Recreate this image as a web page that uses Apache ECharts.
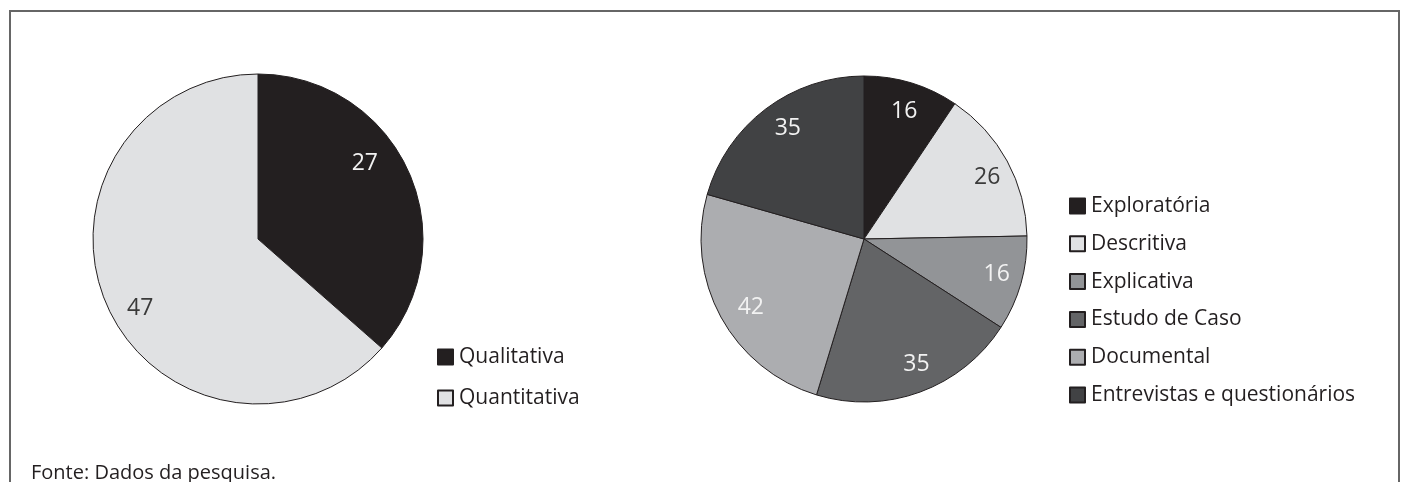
<!DOCTYPE html>
<html>
<head>
<meta charset="utf-8">
<script src="https://cdn.jsdelivr.net/npm/echarts@6/dist/echarts.min.js"></script>
<style>
  html, body { margin: 0; padding: 0; background: #ffffff; }
  #chart { width: 1402px; height: 482px; }
</style>
</head>
<body>
<div id="chart"></div>
<script>
// ---- Data ----
const leftCategories = ['Qualitativa', 'Quantitativa'];
const leftValues = [27, 47];
const rightCategories = ['Exploratória', 'Descritiva', 'Explicativa', 'Estudo de Caso', 'Documental', 'Entrevistas e questionários'];
const rightValues = [16, 26, 16, 35, 42, 35];
const sourceText = 'Fonte: Dados da pesquisa.';

// ---- Styles ----
const leftColors = ['#231f20', '#e0e1e3'];
const leftLabelColors = ['#f2f2f2', '#3a3a3a'];
const rightColors = ['#231f20', '#e0e1e3', '#929497', '#636466', '#acadb0', '#414244'];
const rightLabelColors = ['#f2f2f2', '#3a3a3a', '#f2f2f2', '#f2f2f2', '#f2f2f2', '#f2f2f2'];
const leftLabelNudge = [[-18, -19], [7, 13]];
const rightLabelNudge = [[0, 4], [2, 4], [0, -2], [5, -4], [8, 2], [7, 0]];
const FONT = '"Open Sans", "Noto Sans", sans-serif';

function mainSeries(cats, vals, colors, center, radius) {
  return {
    type: 'pie',
    center: center,
    radius: radius,
    startAngle: 90,
    clockwise: true,
    label: { show: false },
    labelLine: { show: false },
    emphasis: { disabled: true },
    animation: false,
    data: cats.map((n, i) => ({
      name: n, value: vals[i],
      itemStyle: { color: colors[i], borderColor: '#231f20', borderWidth: 1 }
    }))
  };
}
function labelSeries(cats, vals, labelColors, nudges, center, radius) {
  return {
    type: 'pie',
    center: center,
    radius: radius,
    startAngle: 90,
    clockwise: true,
    silent: true,
    legendHoverLink: false,
    emphasis: { disabled: true },
    animation: false,
    labelLine: { show: false },
    label: {
      show: true, position: 'inside', formatter: '{c}',
      fontFamily: FONT, fontSize: 23
    },
    itemStyle: { color: 'transparent', borderWidth: 0 },
    data: cats.map((n, i) => ({
      name: n, value: vals[i],
      label: { color: labelColors[i], offset: nudges[i] }
    }))
  };
}

const legendText = { fontFamily: FONT, fontSize: 21, lineHeight: 24, color: '#231f20', padding: [0, 0, 0, 1] };

const chart = echarts.init(document.getElementById('chart'), null, { renderer: 'canvas' });
chart.setOption({
  backgroundColor: '#ffffff',
  animation: false,
  legend: [
    {
      data: leftCategories,
      orient: 'vertical', left: 437, top: 345, padding: 0,
      itemWidth: 15, itemHeight: 15, itemGap: 17,
      icon: 'rect',
      selectedMode: false,
      textStyle: legendText
    },
    {
      data: rightCategories,
      orient: 'vertical', left: 1069, top: 194, padding: 0,
      itemWidth: 15, itemHeight: 15, itemGap: 13.8,
      icon: 'rect',
      selectedMode: false,
      textStyle: legendText
    }
  ],
  graphic: [
    {
      type: 'rect', silent: true,
      shape: { x: 10, y: 11, width: 1389, height: 600 },
      style: { fill: 'none', stroke: '#666666', lineWidth: 2 }
    },
    {
      type: 'text', left: 31, top: 463, silent: true,
      style: { text: sourceText, fontFamily: FONT, fontSize: 20, fill: '#231f20' }
    }
  ],
  series: [
    mainSeries(leftCategories, leftValues, leftColors, [258, 239], 165),
    mainSeries(rightCategories, rightValues, rightColors, [864, 239], 163),
    labelSeries(leftCategories, leftValues, leftLabelColors, leftLabelNudge, [258, 239], [108, 160]),
    labelSeries(rightCategories, rightValues, rightLabelColors, rightLabelNudge, [864, 239], [109, 161])
  ]
});
</script>
</body>
</html>
